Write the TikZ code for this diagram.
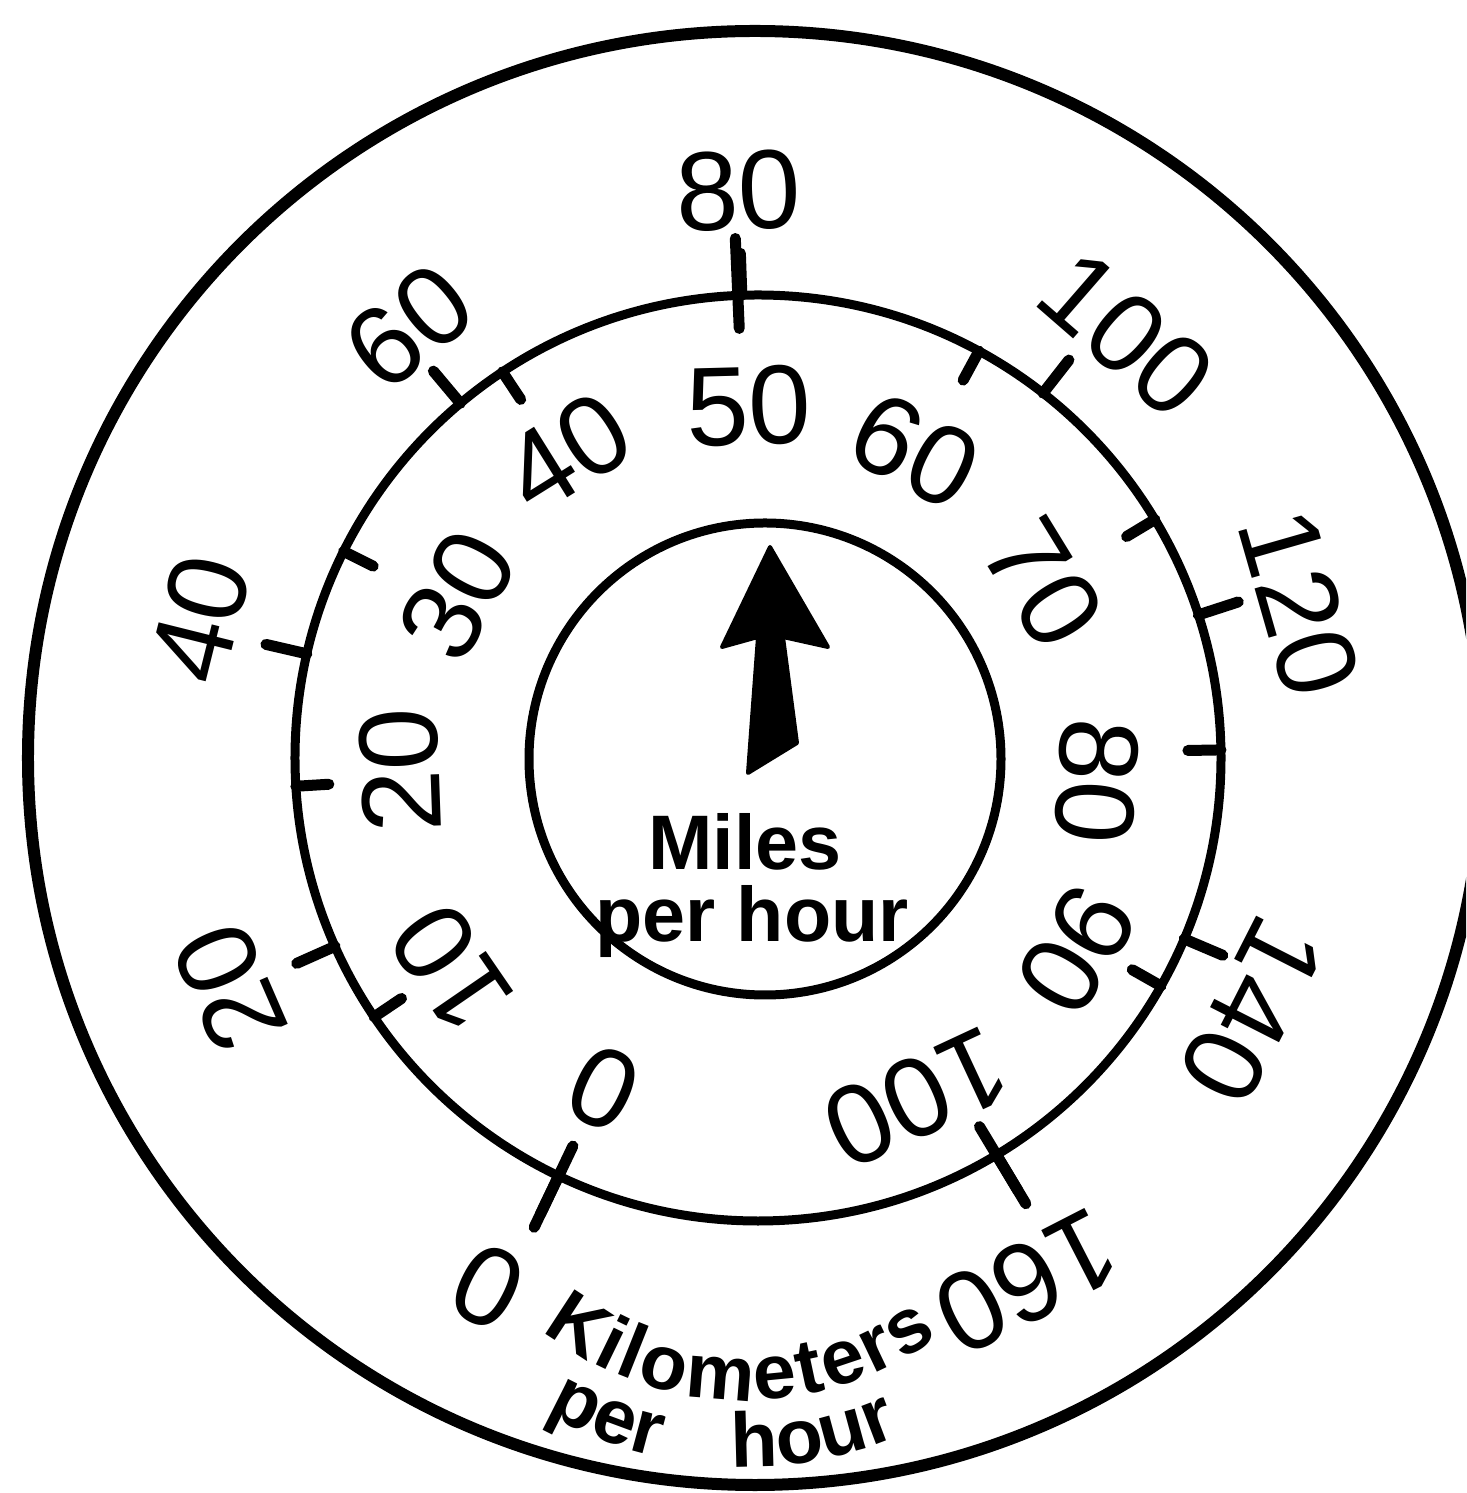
\documentclass[tikz,border=0pt]{standalone}
\usepackage{fontspec}
\newfontfamily\dialfont{Liberation Sans}
\usetikzlibrary{decorations.text}

\newcommand{\numfont}{\dialfont\fontsize{32}{34}\selectfont}
\newcommand{\capfont}{\dialfont\bfseries\fontsize{22}{24}\selectfont}

\begin{document}
\begin{tikzpicture}[
  dial/.style={draw=black,line width=0.09cm},
  scaletick/.style={line width=0.11cm,line cap=round},
  mphlabel/.style={font=\numfont,inner sep=0pt},
  kmhlabel/.style={font=\numfont,inner sep=0pt},
  needle/.style={fill=black,draw=black,line width=0.04cm,line join=round},
  caption/.style={font=\capfont,anchor=base,inner sep=0pt}
]
  \useasboundingbox (-7.58,-7.35) rectangle (7.08,7.58);
  \clip (-7.58,-7.35) rectangle (7.08,7.58);

  % rings
  \draw[dial,line width=0.12cm] (-0.03,0) circle[radius=7.27];
  \draw[dial] (0,0) circle[radius=4.63];
  \draw[dial] (0.07,-0.01) circle[radius=2.36];

  % miles per hour (inside): value/tick angle/label angle/label radius
  \foreach \v/\a/\b/\r in {0/244.5/245/3.65,10/214/214.5/3.72,20/183.5/182/3.58,
      30/153.5/151.5/3.42,40/123.5/122/3.6,50/92.5/91.5/3.52,60/61.5/63/3.45,
      70/31/31.5/3.35,80/1/-4/3.4,90/-29.5/-31/3.72,100/-59/-65/3.75}{
    \draw[scaletick] (\a:4.63) -- (\a:4.30);
    \node[mphlabel,rotate=\b-90] (mph\v) at (\b:\r) {\v};
  }

  % kilometers per hour (outside)
  \foreach \v/\a/\b/\r in {0/244.5/243/5.94,20/204/203.5/5.76,40/167/166/5.75,
      60/130/129/5.55,80/92/92/5.68,100/52/49/5.62,120/18/16/5.63,
      140/-23/-27/5.55,160/-59/-62.8/5.89}{
    \draw[scaletick] (\a:4.63) -- (\a:5.05);
    \node[kmhlabel,rotate=\b-90] (kmh\v) at (\b:\r) {\v};
  }
  \foreach \a in {244.5,92.5,-59}
    \draw[scaletick] (\a:4.63) -- (\a:5.2);

  % needle
  \fill[needle] (0.12,2.11) -- (0.70,1.11) -- (0.25,1.21) -- (0.39,0.15)
    -- (-0.10,-0.15) -- (0.0,1.21) -- (-0.36,1.11) -- cycle;

  \node[caption] (miles) at (-0.13,-1.12) {Miles};
  \node[caption] (milesph) at (-0.06,-1.84) {per hour};

  % bottom caption, bent round the ring
  \path[decorate,decoration={text along path,text align={fit to path},text={|\capfont|Kilometers}}]
    (-0.13,-3.12) ++(232:3.3) arc[start angle=232,end angle=306,radius=3.3];
  \path[decorate,decoration={text along path,text align=center,text={|\capfont|per}}]
    (-0.13,-3.12) ++(239:3.97) arc[start angle=239,end angle=258,radius=3.97];
  \path[decorate,decoration={text along path,text align=center,text={|\capfont|hour}}]
    (-0.13,-3.12) ++(265:3.97) arc[start angle=265,end angle=296,radius=3.97];
\end{tikzpicture}
\end{document}
